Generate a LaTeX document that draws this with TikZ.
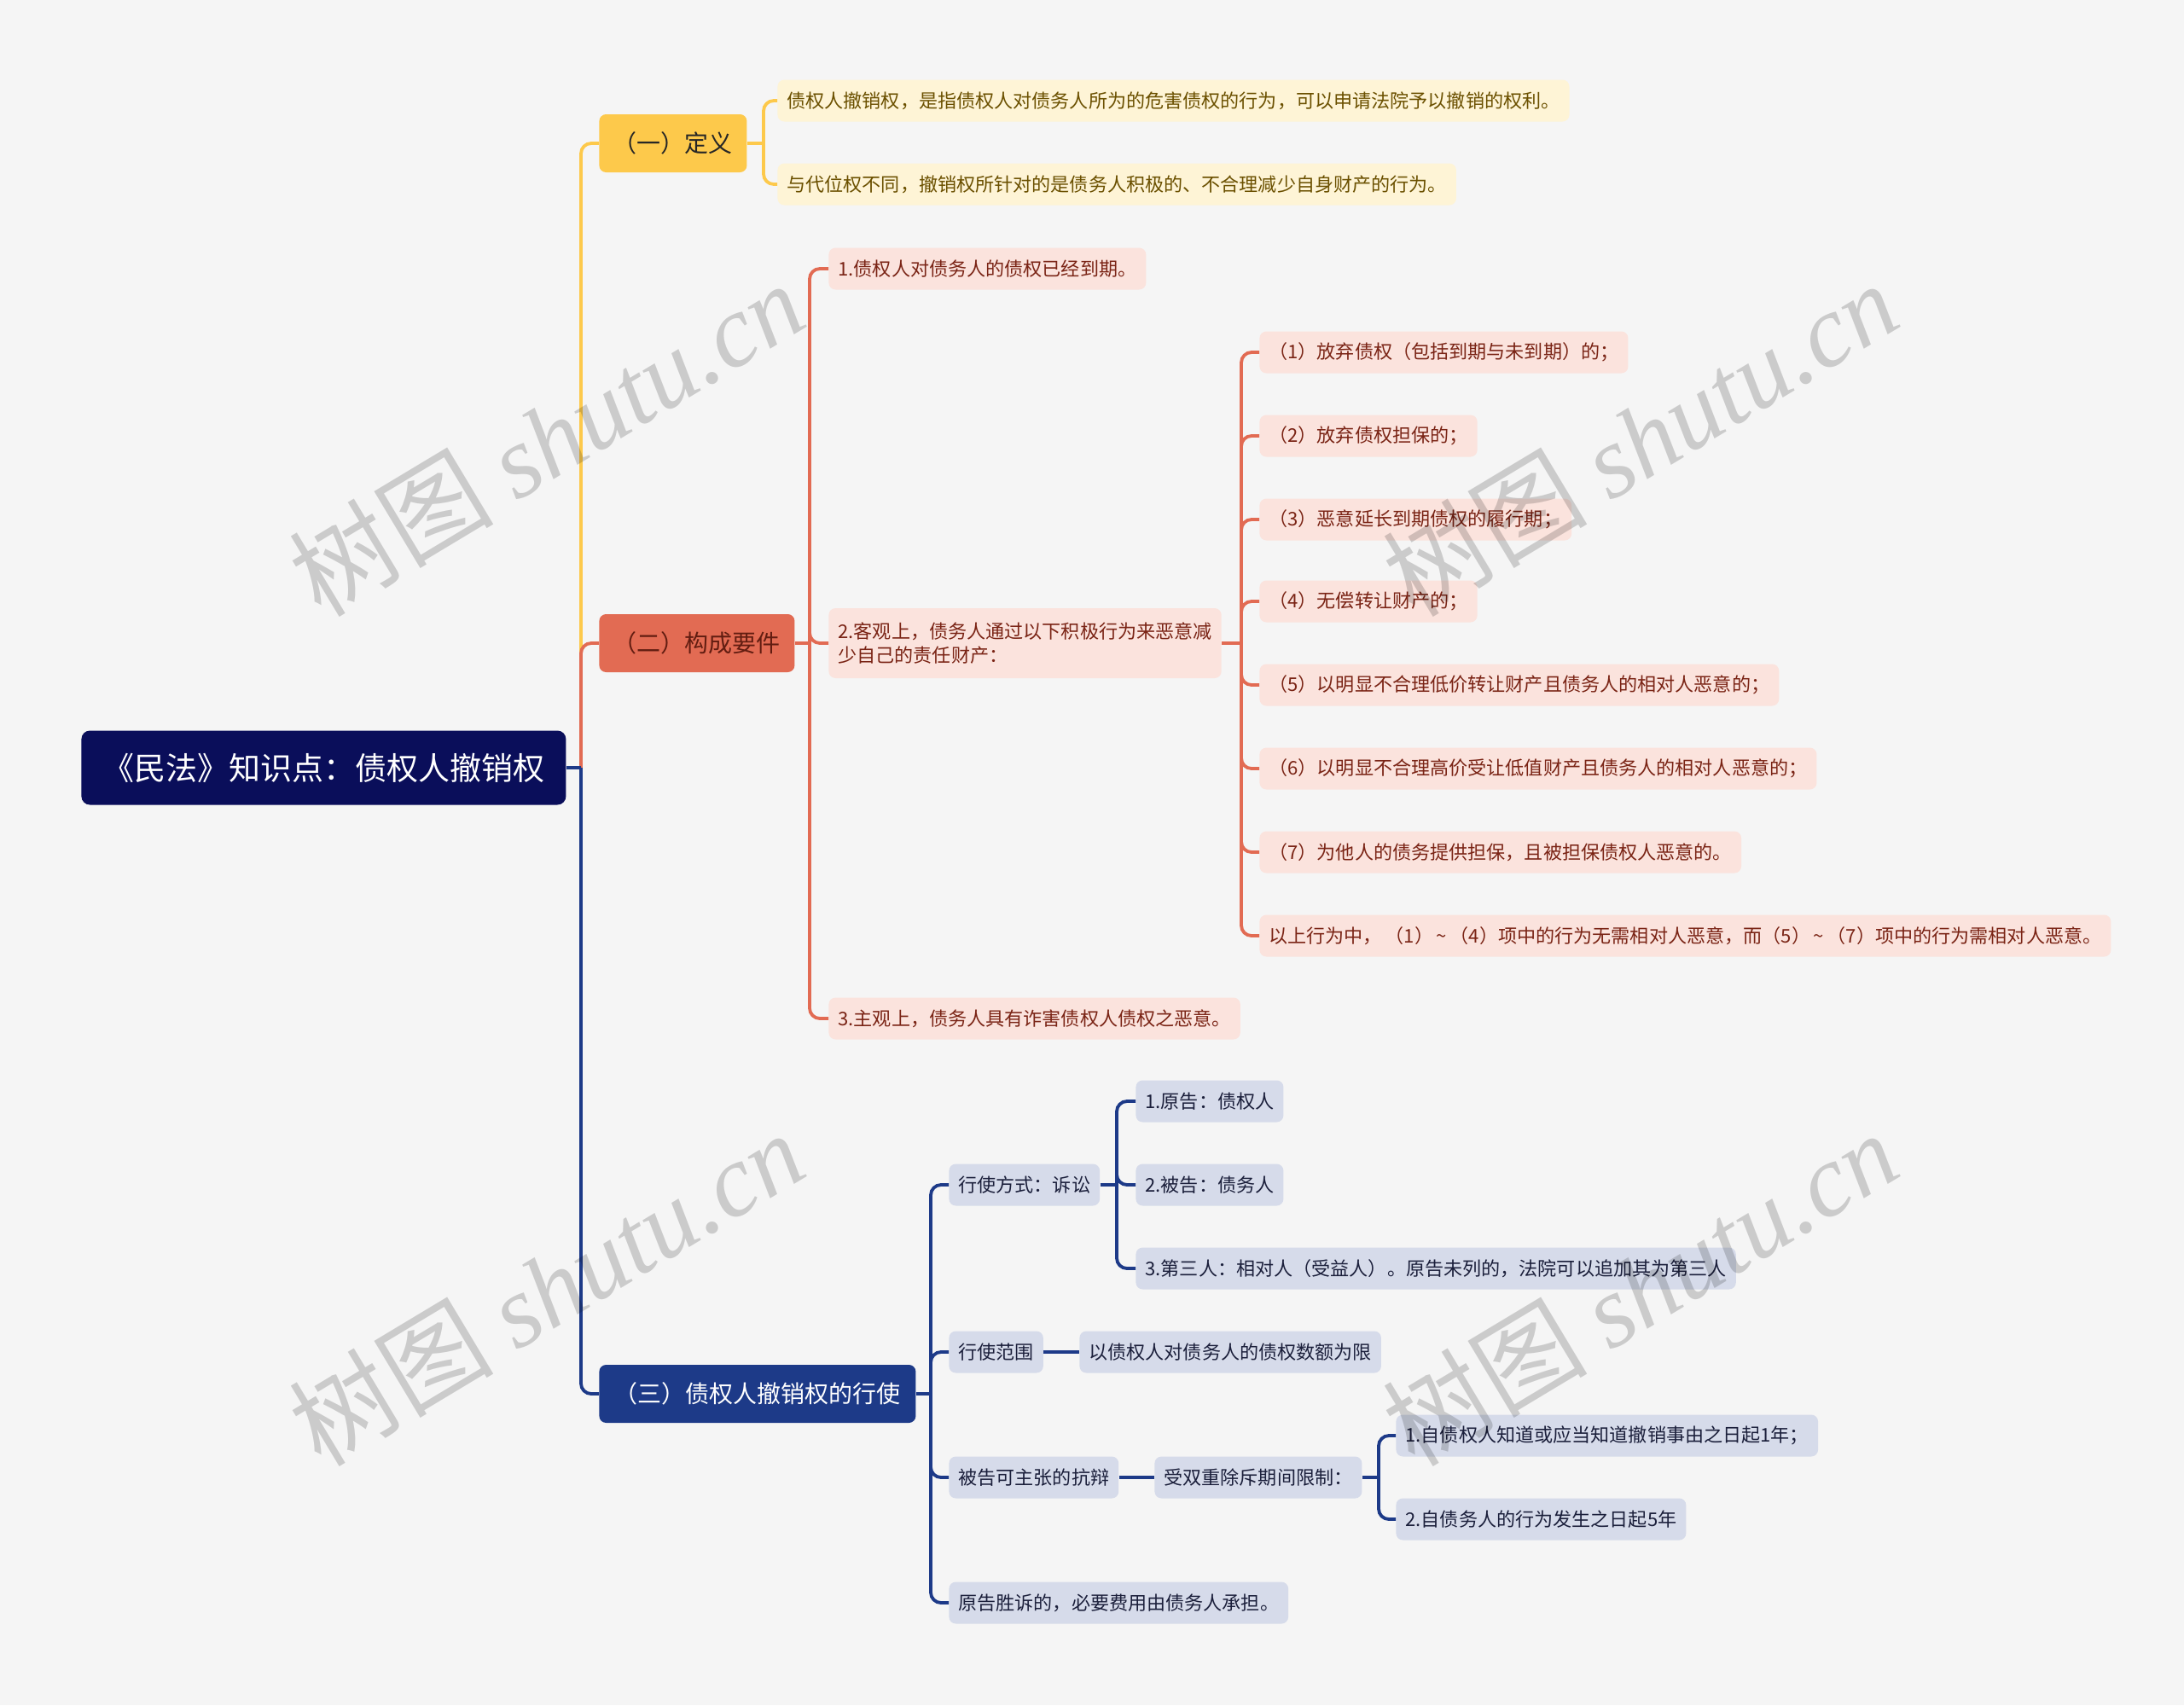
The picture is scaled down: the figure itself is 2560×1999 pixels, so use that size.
\documentclass[tikz,border=0pt]{standalone}
\usepackage{fontspec}
\setmainfont{Noto Sans CJK SC}
\newfontfamily\wmlatin{Liberation Serif}
\usetikzlibrary{calc}
\definecolor{bgc}{HTML}{F5F5F5}
\definecolor{rootc}{HTML}{0A0E5A}
\definecolor{yelc}{HTML}{FDC94B}
\definecolor{corc}{HTML}{E26B53}
\definecolor{bluc}{HTML}{1D3A88}
\definecolor{ypale}{HTML}{FEF4D6}
\definecolor{ytext}{HTML}{6B5000}
\definecolor{cpale}{HTML}{FBE3DD}
\definecolor{ctext}{HTML}{7A2415}
\definecolor{bpale}{HTML}{D6DBEA}
\definecolor{btext}{HTML}{1B1F3B}
\begin{document}
\begin{tikzpicture}[x=0.5pt,y=-0.5pt,
  box/.style={rounded corners=4pt, inner xsep=5.5pt, inner ysep=0pt, minimum height=24.5pt, anchor=west, font=\fontsize{11.05}{14}\selectfont},
  ybox/.style={box, fill=ypale, text=ytext},
  cbox/.style={box, fill=cpale, text=ctext},
  bbox/.style={box, fill=bpale, text=btext},
  topbox/.style={rounded corners=4pt, inner xsep=7pt, inner ysep=0pt, minimum height=34pt, anchor=west, font=\fontsize{14}{16}\selectfont},
  yl/.style={draw=yelc, line width=1.9pt, rounded corners=6pt},
  cl/.style={draw=corc, line width=1.9pt, rounded corners=6pt},
  bl/.style={draw=bluc, line width=1.9pt, rounded corners=6pt},
  wm/.style={rotate=31, text=black, opacity=0.17, font=\fontsize{60}{66}\selectfont}
]
\useasboundingbox[fill=bgc] (0,0) rectangle (2560,1999);

% nodes
\node[rounded corners=5pt, fill=rootc, text=white, anchor=west, minimum width=284pt, minimum height=43.5pt, inner sep=0pt, font=\fontsize{18.5}{20}\selectfont] (root) at (95,900) {《民法》知识点：债权人撤销权};

\node[topbox, fill=yelc, text=black!85, minimum width=86.5pt] (def) at (702,168) {（一）定义};
\node[topbox, fill=corc, text=ctext!80!black, minimum width=114.5pt] (req) at (702,754) {（二）构成要件};
\node[topbox, fill=bluc, text=white, minimum width=185.5pt] (exe) at (702,1634) {（三）债权人撤销权的行使};

\node[ybox] (d1) at (911,118) {债权人撤销权，是指债权人对债务人所为的危害债权的行为，可以申请法院予以撤销的权利。};
\node[ybox] (d2) at (911,216) {与代位权不同，撤销权所针对的是债务人积极的、不合理减少自身财产的行为。};

\node[cbox] (r1) at (971,315) {1.债权人对债务人的债权已经到期。};
\node[cbox, minimum height=41pt, align=left] (r2) at (971,754) {2.客观上，债务人通过以下积极行为来恶意减\\少自己的责任财产：};
\node[cbox] (r3) at (971,1194) {3.主观上，债务人具有诈害债权人债权之恶意。};

\node[cbox] (a1) at (1476,413) {（1）放弃债权（包括到期与未到期）的；};
\node[cbox] (a2) at (1476,511) {（2）放弃债权担保的；};
\node[cbox] (a3) at (1476,609) {（3）恶意延长到期债权的履行期；};
\node[cbox] (a4) at (1476,705) {（4）无偿转让财产的；};
\node[cbox] (a5) at (1476,803) {（5）以明显不合理低价转让财产且债务人的相对人恶意的；};
\node[cbox] (a6) at (1476,901) {（6）以明显不合理高价受让低值财产且债务人的相对人恶意的；};
\node[cbox] (a7) at (1476,999) {（7）为他人的债务提供担保，且被担保债权人恶意的。};
\node[cbox] (a8) at (1476,1097) {以上行为中，\,（1）\,\textasciitilde\,（4）项中的行为无需相对人恶意，而（5）\,\textasciitilde\,（7）项中的行为需相对人恶意。};

\node[bbox] (e1) at (1112,1389) {行使方式：诉讼};
\node[bbox] (e2) at (1112,1585) {行使范围};
\node[bbox] (e3) at (1112,1732) {被告可主张的抗辩};
\node[bbox] (e4) at (1112,1879) {原告胜诉的，必要费用由债务人承担。};

\node[bbox] (p1) at (1331,1291) {1.原告：债权人};
\node[bbox] (p2) at (1331,1389) {2.被告：债务人};
\node[bbox] (p3) at (1331,1487) {3.第三人：相对人（受益人）。原告未列的，法院可以追加其为第三人};

\node[bbox] (s1) at (1265,1585) {以债权人对债务人的债权数额为限};
\node[bbox] (t1) at (1353,1732) {受双重除斥期间限制：};
\node[bbox] (u1) at (1636,1683) {1.自债权人知道或应当知道撤销事由之日起1年；};
\node[bbox] (u2) at (1636,1781) {2.自债务人的行为发生之日起5年};

% junctions
\coordinate (jroot) at (681,900);
\coordinate (jdef) at (895,168);
\coordinate (jreq) at (949,754);
\coordinate (jr2) at (1455,754);
\coordinate (jexe) at (1091,1634);
\coordinate (je1) at (1309,1389);
\coordinate (jt1) at (1616,1732);

% connectors
\draw[yl] (jroot) |- (def.west);
\draw[cl] (jroot) |- (req.west);
\draw[bl] (jroot) |- (exe.west);
\draw[bl] (root.east) -- (jroot);

\draw[yl] (def.east) -- (jdef);
\draw[yl] (jdef) |- (d1.west);
\draw[yl] (jdef) |- (d2.west);

\draw[cl] (req.east) -- (jreq);
\draw[cl] (jreq) |- (r1.west);
\draw[cl] (jreq) |- (r2.west);
\draw[cl] (jreq) |- (r3.west);

\draw[cl] (r2.east) -- (jr2);
\foreach \n in {a1,a2,a3,a4,a5,a6,a7,a8} \draw[cl] (jr2) |- (\n.west);

\draw[bl] (exe.east) -- (jexe);
\foreach \n in {e1,e2,e3,e4} \draw[bl] (jexe) |- (\n.west);

\draw[bl] (e1.east) -- (je1);
\foreach \n in {p1,p2,p3} \draw[bl] (je1) |- (\n.west);

\draw[bl] (e2.east) -- (s1.west);
\draw[bl] (e3.east) -- (t1.west);
\draw[bl] (t1.east) -- (jt1);
\foreach \n in {u1,u2} \draw[bl] (jt1) |- (\n.west);

% watermarks
\foreach \p [count=\i] in {(640,514),(1922,514),(640,1510),(1922,1510)}
  \node[wm] (wm\i) at \p {树图 {\wmlatin\itshape shutu.cn}};
\end{tikzpicture}
\end{document}
